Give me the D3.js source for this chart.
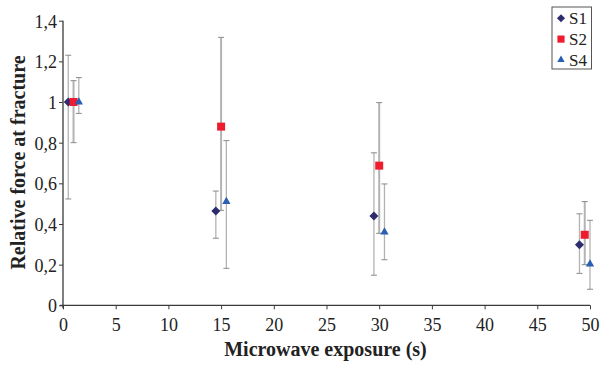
<!DOCTYPE html>
<html>
<head>
<meta charset="utf-8">
<script src="https://cdn.jsdelivr.net/npm/d3@7"></script>
<style>
  html, body { margin: 0; padding: 0; background: #fff; }
  svg { display: block; }
  svg text { font-family: "Liberation Serif", "Times New Roman", Times, serif; }
</style>
</head>
<body>
<svg id="chart" width="600" height="367"></svg>
<script>
// Series: exposure time (s), mean relative force, and error bar limits
const seriesNames = ["S1", "S2", "S4"];
const s1x = [0.5, 14.5, 29.5, 49];
const s1y = [1.0, 0.464, 0.439, 0.298];
const s1hi = [1.23, 0.562, 0.75, 0.45];
const s1lo = [0.523, 0.33, 0.148, 0.157];

const s2x = [1, 15, 30, 49.5];
const s2y = [1.0, 0.879, 0.687, 0.347];
const s2hi = [1.105, 1.318, 0.997, 0.51];
const s2lo = [0.80, 0.467, 0.354, 0.20];

const s4x = [1.5, 15.5, 30.5, 50];
const s4y = [1.0, 0.51, 0.36, 0.203];
const s4hi = [1.12, 0.81, 0.597, 0.418];
const s4lo = [0.944, 0.182, 0.224, 0.079];

const xTicks = [0, 5, 10, 15, 20, 25, 30, 35, 40, 45, 50];
const yTicks = [0, 0.2, 0.4, 0.6, 0.8, 1.0, 1.2, 1.4];
const xTitle = "Microwave exposure (s)";
const yTitle = "Relative force at fracture";

const FONT = "Liberation Serif";
const svg = d3.select("#chart");

const x = d3.scaleLinear().domain([0, 50]).range([63, 590]);
const y = d3.scaleLinear().domain([0, 1.4]).range([305.3, 20.7]);

const fmt = v => (v === 0 ? "0" : (Number.isInteger(v) ? String(v) : d3.format(".1f")(v).replace(".", ",")));

// Axes
const axisColor = "#3a3a3a";
const gx = svg.append("g").attr("transform", `translate(0,${y(0)})`)
  .call(d3.axisBottom(x).tickValues(xTicks).tickSize(4).tickSizeOuter(0).tickPadding(8.6).tickFormat(d3.format("d")));
const gy = svg.append("g").attr("transform", `translate(${x(0)},0)`)
  .call(d3.axisLeft(y).tickValues(yTicks).tickSize(4).tickSizeOuter(0).tickPadding(2).tickFormat(fmt));

[gx, gy].forEach(g => {
  g.attr("font-family", FONT);
  g.select(".domain").attr("stroke", axisColor).attr("stroke-width", 1.3);
  g.selectAll(".tick line").attr("stroke", axisColor).attr("stroke-width", 1);
  g.selectAll(".tick text").attr("fill", "#222").attr("font-size", 18).attr("font-family", FONT);
});
gy.selectAll(".tick text").attr("dy", "0.36em");
// x axis line extends slightly left of the y axis, y axis slightly below
gx.select(".domain").attr("d", `M${x(0) - 3},0H${x(50)}`);
gy.select(".domain").attr("d", `M0,${y(1.4)}V${y(0) + 3}`);

// Axis titles
svg.append("text")
  .attr("x", 325.5).attr("y", 356)
  .attr("text-anchor", "middle").attr("font-family", FONT)
  .attr("font-weight", "bold").attr("font-size", 20).attr("fill", "#222")
  .text(xTitle);
svg.append("text")
  .attr("transform", `translate(25,${162.5}) rotate(-90)`)
  .attr("text-anchor", "middle").attr("font-family", FONT)
  .attr("font-weight", "bold").attr("font-size", 20).attr("fill", "#222")
  .text(yTitle);

// Diamond drawn as a square turned by 45 degrees
const diamond = {
  draw(ctx, size) {
    const r = Math.sqrt(size / 2);
    ctx.moveTo(0, -r); ctx.lineTo(r, 0); ctx.lineTo(0, r); ctx.lineTo(-r, 0); ctx.closePath();
  }
};

const series = [
  { name: seriesNames[0], xs: s1x, ys: s1y, hi: s1hi, lo: s1lo, color: "#2d2c6e", shape: diamond, size: 41, barW: 1.3 },
  { name: seriesNames[1], xs: s2x, ys: s2y, hi: s2hi, lo: s2lo, color: "#ee1c2e", shape: d3.symbolSquare, size: 64, barW: 2 },
  { name: seriesNames[2], xs: s4x, ys: s4y, hi: s4hi, lo: s4lo, color: "#2b5fb3", shape: d3.symbolTriangle, size: 30, barW: 1.3 }
];

// Error bars
series.forEach(s => {
  const g = svg.append("g");
  s.xs.forEach((xv, i) => {
    const px = x(xv);
    g.append("line").attr("x1", px).attr("x2", px).attr("y1", y(s.hi[i])).attr("y2", y(s.lo[i]))
      .attr("stroke", "#b3b3b3").attr("stroke-width", s.barW);
    [s.hi[i], s.lo[i]].forEach(v => {
      g.append("line").attr("x1", px - 3).attr("x2", px + 3).attr("y1", y(v)).attr("y2", y(v))
        .attr("stroke", "#8a8a8a").attr("stroke-width", 1);
    });
  });
});

// Markers
series.forEach(s => {
  svg.append("g").selectAll("path").data(s.xs.map((xv, i) => [xv, s.ys[i]])).join("path")
    .attr("transform", d => `translate(${x(d[0])},${y(d[1])})`)
    .attr("d", d3.symbol().type(s.shape).size(s.size))
    .attr("fill", s.color);
});

// Legend
const lg = svg.append("g");
lg.append("rect").attr("x", 552).attr("y", 7).attr("width", 39.5).attr("height", 62)
  .attr("fill", "#fff").attr("stroke", "#555").attr("stroke-width", 1);
series.forEach((s, i) => {
  const cy = 18.3 + i * 20.8;
  lg.append("path").attr("transform", `translate(561,${cy})`)
    .attr("d", d3.symbol().type(s.shape).size(s.size * 0.8)).attr("fill", s.color);
  lg.append("text").attr("x", 569).attr("y", cy + 5.8).attr("font-family", FONT)
    .attr("font-size", 17).attr("fill", "#222").text(s.name);
});
</script>
</body>
</html>
